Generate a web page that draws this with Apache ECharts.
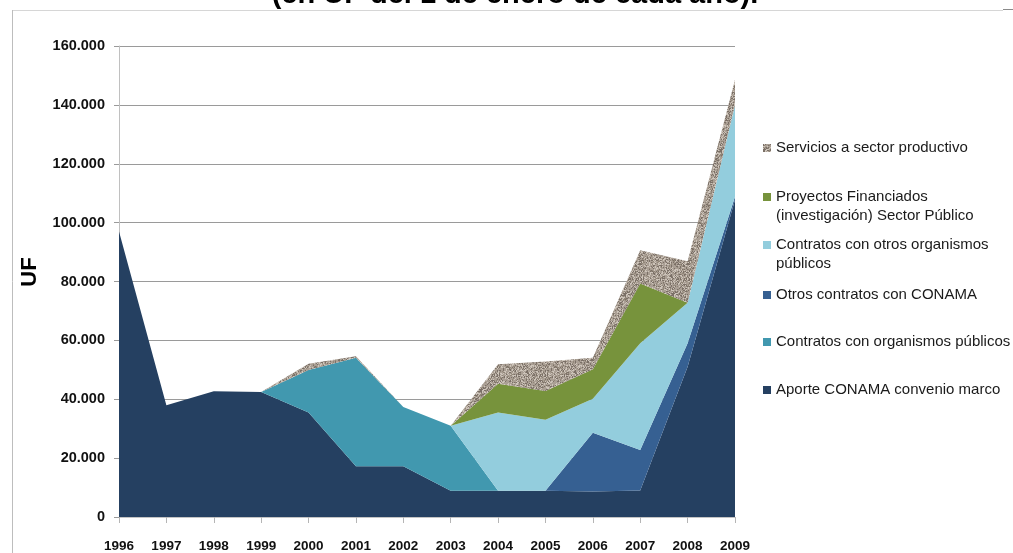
<!DOCTYPE html>
<html>
<head>
<meta charset="utf-8">
<script src="https://cdn.jsdelivr.net/npm/echarts@6/dist/echarts.min.js"></script>
<style>
  html, body { margin: 0; padding: 0; background: #fff; }
  #chart { width: 1013px; height: 553px; }
</style>
</head>
<body>
<div id="chart"></div>
<script>
// años
const years = ['1996', '1997', '1998', '1999', '2000', '2001', '2002', '2003', '2004', '2005', '2006', '2007', '2008', '2009']

// valores en UF, de abajo hacia arriba
const aporteConama = [97000, 38000, 42700, 42500, 35500, 17200, 17200, 8900, 8900, 8900, 8700, 9000, 51000, 107800]
const contratosOrganismos = [0, 0, 0, 0, 14400, 36900, 20200, 22100, 0, 0, 0, 0, 0, 0]
const otrosContratosConama = [0, 0, 0, 0, 0, 0, 0, 0, 0, 0, 19900, 13800, 8000, 1000]
const contratosOtrosOrganismos = [0, 0, 0, 0, 0, 0, 0, 0, 26600, 24100, 11600, 36200, 13800, 31200]
const proyectosFinanciados = [0, 0, 0, 0, 0, 0, 0, 0, 9800, 9800, 10000, 20300, 0, 0]
const serviciosProductivo = [0, 0, 0, 0, 2200, 500, 0, 0, 6600, 10000, 3900, 11300, 14100, 8500]

const seriesNames = [
  'Aporte CONAMA convenio marco',
  'Contratos con organismos públicos',
  'Otros contratos con CONAMA',
  'Contratos con otros organismos\npúblicos',
  'Proyectos Financiados\n(investigación) Sector Público',
  'Servicios a sector productivo'
]
const seriesData = [aporteConama, contratosOrganismos, otrosContratosConama, contratosOtrosOrganismos, proyectosFinanciados, serviciosProductivo]

// y del centro de cada leyenda (de arriba hacia abajo: Servicios ... Aporte)
const legendCenters = [390, 342, 295, 245, 197, 148]

// textura granito para "Servicios"
function makeTexture () {
  const c = document.createElement('canvas')
  c.width = 48
  c.height = 48
  const ctx = c.getContext('2d')
  ctx.fillStyle = '#aa9f94'
  ctx.fillRect(0, 0, 48, 48)
  for (let y = 0; y < 48; y++) {
    for (let x = 0; x < 48; x++) {
      const h = Math.abs(Math.sin(x * 12.9898 + y * 78.233) * 43758.5453) % 1
      if (h < 0.2) ctx.fillStyle = '#7b7067'
      else if (h < 0.3) ctx.fillStyle = '#928779'
      else if (h > 0.78) ctx.fillStyle = '#cdc4ba'
      else continue
      ctx.fillRect(x, y, 1, 1)
    }
  }
  return c
}

const colors = ['#254061', '#4198af', '#366092', '#93cddd', '#77933c', { image: makeTexture(), repeat: 'repeat' }]

const chart = echarts.init(document.getElementById('chart'))

const legends = seriesNames.map((name, i) => ({
  data: [name],
  orient: 'vertical',
  left: 763,
  top: legendCenters[i] - 9,
  padding: 0,
  icon: 'rect',
  itemWidth: 8,
  itemHeight: 8,
  itemGap: 5,
  selectedMode: false,
  formatter: n => n.split('\n')[0],
  textStyle: { fontFamily: 'Liberation Sans, Arial, sans-serif', fontSize: 15, color: '#1a1a1a', lineHeight: 18 }
}))

const extraLines = []
seriesNames.forEach((name, i) => {
  const parts = name.split('\n')
  parts.slice(1).forEach((p, k) => {
    extraLines.push({
      type: 'text',
      left: 776,
      top: legendCenters[i] + 20 * (k + 1) - 9,
      style: { text: p, font: '15px "Liberation Sans", Arial, sans-serif', fill: '#1a1a1a' }
    })
  })
})

const option = {
  animation: false,
  grid: { left: 119, right: 278, top: 46, bottom: 35 },
  legend: legends,
  xAxis: {
    type: 'category',
    data: years,
    boundaryGap: false,
    axisLine: { lineStyle: { color: '#c4c4c4' } },
    axisTick: { show: true, length: 6, lineStyle: { color: '#b5b5b5' } },
    axisLabel: {
      interval: 0,
      margin: 22,
      fontFamily: '"Liberation Sans", Arial, sans-serif',
      fontWeight: 'bold',
      fontSize: 13.5,
      color: '#111'
    }
  },
  yAxis: {
    type: 'value',
    min: 0,
    max: 160000,
    interval: 20000,
    axisLine: { show: true, lineStyle: { color: '#c0c0c0' } },
    axisTick: { show: true, length: 5, lineStyle: { color: '#9a9a9a' } },
    splitLine: { lineStyle: { color: '#9a9a9a' } },
    axisLabel: {
      margin: 14,
      fontFamily: '"Liberation Sans", Arial, sans-serif',
      fontWeight: 'bold',
      fontSize: 14.5,
      color: '#111',
      formatter: v => v.toString().replace(/\B(?=(\d{3})+(?!\d))/g, '.')
    }
  },
  series: seriesNames.map((name, i) => ({
    name: name,
    type: 'line',
    stack: 'total',
    data: seriesData[i],
    symbol: 'none',
    lineStyle: { width: 0 },
    itemStyle: { color: colors[i] },
    areaStyle: { color: colors[i], opacity: 1 }
  })),
  graphic: [
    { type: 'line', shape: { x1: 12, y1: 10.5, x2: 1003, y2: 10.5 }, style: { stroke: '#d6d6d6', lineWidth: 1 } },
    { type: 'line', shape: { x1: 12.5, y1: 10, x2: 12.5, y2: 553 }, style: { stroke: '#bdbdbd', lineWidth: 1 } },
    { type: 'line', shape: { x1: 1003, y1: 9.5, x2: 1013, y2: 9.5 }, style: { stroke: '#8a8a8a', lineWidth: 1 } },
    {
      type: 'text',
      x: 515,
      y: -5,
      style: {
        text: '(en UF del 1 de enero de cada año).',
        font: 'bold 29px "Liberation Sans", Arial, sans-serif',
        fill: '#000',
        align: 'center',
        verticalAlign: 'middle'
      }
    },
    {
      type: 'text',
      x: 30,
      y: 272,
      rotation: Math.PI / 2,
      style: {
        text: 'UF',
        font: 'bold 22px "Liberation Sans", Arial, sans-serif',
        fill: '#000',
        align: 'center',
        verticalAlign: 'middle'
      }
    }
  ].concat(extraLines)
}

chart.setOption(option)
window.addEventListener('resize', chart.resize)
</script>
</body>
</html>
